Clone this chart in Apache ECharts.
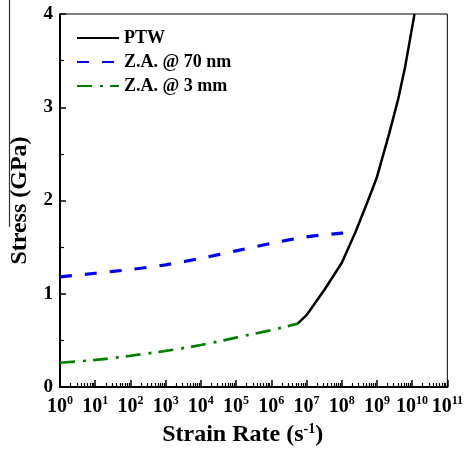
<!DOCTYPE html>
<html>
<head>
<meta charset="utf-8">
<script src="https://cdn.jsdelivr.net/npm/echarts@6/dist/echarts.min.js"></script>
<style>
html,body{margin:0;padding:0;background:#fff;}
#c{width:466px;height:452px;}
</style>
</head>
<body>
<div id="c"></div>
<script>
// Strain rate (s^-1) and stress (GPa)
var ptwRate   = [5.75e6, 7.0e6, 1.0e7, 3.2e7, 1.0e8, 2.45e8, 5.6e8, 1.0e9, 2.24e9, 3.98e9, 6.3e9, 1.17e10];
var ptwStress = [0.683, 0.715, 0.77, 1.04, 1.33, 1.66, 2.00, 2.25, 2.72, 3.08, 3.43, 4.00];

var za70Rate   = [1e0, 1e1, 1e2, 1e3, 1e4, 1e5, 1e6, 1e7, 1e8, 2.45e8];
var za70Stress = [1.18, 1.22, 1.26, 1.31, 1.38, 1.46, 1.54, 1.61, 1.65, 1.66];

var za3Rate   = [1e0, 1e1, 1e2, 1e3, 1e4, 1e5, 1e6, 5.75e6];
var za3Stress = [0.26, 0.29, 0.335, 0.387, 0.45, 0.53, 0.61, 0.68];

var seriesNames = ['PTW', 'Z.A. @ 70 nm', 'Z.A. @ 3 mm'];
var xTickBase = '10';
var yTicks = [0, 1, 2, 3, 4];

function pairs(xs, ys) { return xs.map(function (x, i) { return [x, ys[i]]; }); }

var FONT = '"Liberation Serif", "Times New Roman", serif';
var chart = echarts.init(document.getElementById('c'), null, {renderer: 'canvas'});

chart.setOption({
  animation: false,
  backgroundColor: '#fff',
  grid: {left: 60, right: 17, top: 14, bottom: 65, show: true, borderColor: '#000', borderWidth: 1, backgroundColor: 'transparent'},
  legend: {
    orient: 'vertical', left: 71, top: 24,
    itemWidth: 42, itemHeight: 14, itemGap: 6,
    data: seriesNames,
    itemStyle: {opacity: 0},
    textStyle: {fontFamily: FONT, fontWeight: 'bold', fontSize: 18, color: '#000', lineHeight: 18}
  },
  xAxis: {
    type: 'log', logBase: 10, min: 1, max: 1e11, interval: 1,
    axisLine: {show: true, lineStyle: {color: '#000', width: 2}},
    axisTick: {show: true, inside: true, length: 7, lineStyle: {color: '#000', width: 1.5}},
    minorTick: {show: true, splitNumber: 9, length: 4, lineStyle: {color: '#000', width: 1.2}},
    splitLine: {show: false},
    axisLabel: {
      margin: 8,
      formatter: function (v) { return '{b|' + xTickBase + '}{s|' + Math.round(Math.log10(v)) + '}'; },
      rich: {
        b: {fontFamily: FONT, fontWeight: 'bold', fontSize: 20, color: '#000', lineHeight: 24},
        s: {fontFamily: FONT, fontWeight: 'bold', fontSize: 12, color: '#000', lineHeight: 12, verticalAlign: 'top'}
      }
    },
    name: '{n|Strain Rate (s}{s|-1}{n|)}',
    nameLocation: 'middle', nameGap: 31,
    nameTextStyle: {
      padding: [0, 22, 0, 0],
      rich: {
        n: {fontFamily: FONT, fontWeight: 'bold', fontSize: 24, color: '#000', lineHeight: 26},
        s: {fontFamily: FONT, fontWeight: 'bold', fontSize: 14, color: '#000', lineHeight: 14, verticalAlign: 'top'}
      }
    }
  },
  yAxis: {
    type: 'value', min: yTicks[0], max: yTicks[yTicks.length - 1], interval: 1,
    axisLine: {show: true, lineStyle: {color: '#000', width: 2}},
    axisTick: {show: true, inside: true, length: 6, lineStyle: {color: '#000', width: 1.5}},
    minorTick: {show: true, splitNumber: 2, length: 4, lineStyle: {color: '#000', width: 1.2}},
    splitLine: {show: false},
    axisLabel: {margin: 7, fontFamily: FONT, fontWeight: 'bold', fontSize: 19, color: '#000'},
    name: 'Stress (GPa)', nameLocation: 'middle', nameGap: 28,
    nameTextStyle: {fontFamily: FONT, fontWeight: 'bold', fontSize: 24, color: '#000'}
  },
  graphic: [{
    type: 'line', shape: {x1: 9.5, y1: 0, x2: 9.5, y2: 227},
    style: {stroke: '#333', lineWidth: 1.2}, z: 10
  }],
  series: [
    {name: seriesNames[0], type: 'line', data: pairs(ptwRate, ptwStress), symbol: 'none',
     lineStyle: {color: '#000', width: 2.5}, itemStyle: {color: '#000'}, z: 3},
    {name: seriesNames[1], type: 'line', data: pairs(za70Rate, za70Stress), symbol: 'none', smooth: 0.3,
     lineStyle: {color: '#0000ff', width: 3.2, type: [12, 13]}, itemStyle: {color: '#0000ff'}, z: 2},
    {name: seriesNames[2], type: 'line', data: pairs(za3Rate, za3Stress), symbol: 'none', smooth: 0.3,
     lineStyle: {color: '#008000', width: 2.7, type: [15, 8, 3, 7]}, itemStyle: {color: '#008000'}, z: 2}
  ]
});
</script>
</body>
</html>
